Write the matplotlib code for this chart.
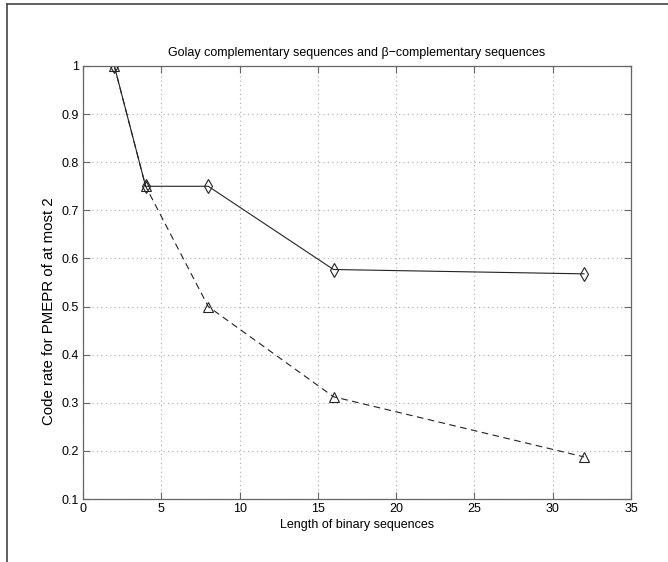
import matplotlib
matplotlib.use("Agg")
import matplotlib.pyplot as plt
from matplotlib.lines import Line2D

lengths = [2, 4, 8, 16, 32]
golay_rate = [1.0, 0.75, 0.75, 0.577, 0.568]
beta_rate = [1.0, 0.75, 0.5, 0.3125, 0.1875]
xticks = [0, 5, 10, 15, 20, 25, 30, 35]
yticks = [0.1, 0.2, 0.3, 0.4, 0.5, 0.6, 0.7, 0.8, 0.9, 1.0]
ytick_labels = ["0.1", "0.2", "0.3", "0.4", "0.5", "0.6", "0.7", "0.8", "0.9", "1"]

plt.rcParams['font.family'] = ['Liberation Sans', 'DejaVu Sans']
fig = plt.figure(figsize=(6.68, 5.62), dpi=100)
ax = fig.add_axes([83/668, 1 - 499/562, (631 - 83)/668, (499 - 66)/562])

ax.plot(lengths, golay_rate, '-', color='#222222', lw=0.8, marker='d', ms=7,
        mfc='none', mec='#222222', mew=0.8)
ax.plot(lengths, beta_rate, '--', color='#222222', lw=0.8, marker='^', ms=7,
        mfc='none', mec='#222222', mew=0.8, dashes=(6, 4))

ax.set_xlim(0, 35)
ax.set_ylim(0.1, 1.0)
ax.set_xticks(xticks)
ax.set_yticks(yticks)
ax.set_yticklabels(ytick_labels)
ax.grid(True, linestyle=(0, (1, 3)), color='#aaaaaa', lw=0.8)
ax.tick_params(direction='in', top=True, right=True, length=5, width=0.8,
               colors='#666666', labelcolor='black', labelsize=9, pad=3)
for s in ax.spines.values():
    s.set_color('#666666')
    s.set_linewidth(0.9)

ax.set_title("Golay complementary sequences and \u03b2\u2212complementary sequences",
             fontsize=9, pad=7.5)
ax.set_xlabel("Length of binary sequences", fontsize=9, labelpad=3)
ax.set_ylabel("Code rate for PMEPR of at most 2", fontsize=10.8)
ax.yaxis.set_label_coords(-0.049, 0.435)

fig.add_artist(Line2D([7/668, 7/668], [0, 1 - 4/562], transform=fig.transFigure,
                      color='#444444', lw=1.2))
fig.add_artist(Line2D([7/668, 1], [1 - 4/562, 1 - 4/562], transform=fig.transFigure,
                      color='#444444', lw=1.2))

fig.savefig("out.png", dpi=100)
